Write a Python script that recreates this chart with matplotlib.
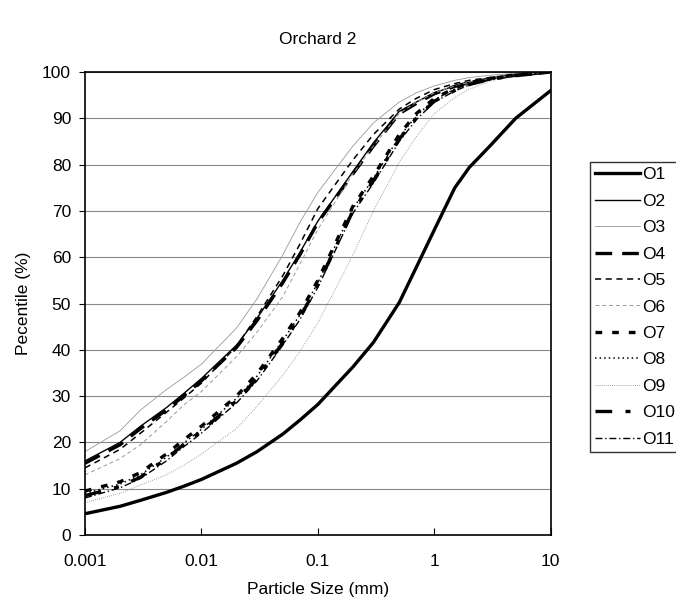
import numpy as np
import matplotlib
matplotlib.use('Agg')
import matplotlib.pyplot as plt

plt.rcParams['font.family'] = ['Liberation Sans', 'DejaVu Sans']

# particle size (mm)
size = [0.001, 0.002, 0.003, 0.005, 0.007, 0.01, 0.02, 0.03, 0.05, 0.07, 0.1,
        0.2, 0.3, 0.5, 0.7, 1, 1.5, 2, 3, 5, 10]

O1 = [4.6, 6.2, 7.5, 9.2, 10.5, 12.0, 15.5, 18.0, 21.8, 24.8, 28.2, 36.3, 41.6, 50.2, 57.8, 65.9, 75.0, 79.4, 84.0, 90.0, 96.0]
O2 = [16.0, 20.0, 23.5, 27.5, 30.5, 33.8, 41.0, 46.8, 55.0, 61.0, 67.8, 78.5, 84.7, 91.5, 93.5, 95.5, 97.0, 97.8, 98.5, 99.3, 100]
O3 = [18.0, 22.5, 27.0, 31.4, 34.0, 36.9, 44.7, 51.0, 60.5, 67.5, 74.0, 84.0, 89.0, 93.5, 95.5, 97.0, 98.2, 98.8, 99.3, 99.7, 100]
O4 = [15.5, 19.5, 23.0, 27.0, 30.0, 33.3, 40.5, 46.3, 54.5, 60.5, 67.5, 78.0, 84.0, 91.0, 93.2, 95.3, 96.9, 97.7, 98.5, 99.3, 100]
O5 = [14.5, 18.5, 22.0, 26.5, 29.5, 32.8, 40.8, 47.2, 56.0, 62.8, 70.5, 81.0, 86.5, 92.0, 94.3, 96.2, 97.5, 98.2, 98.8, 99.5, 100]
O6 = [13.0, 16.5, 19.5, 24.5, 28.0, 31.0, 38.5, 43.8, 51.5, 58.5, 66.0, 78.0, 84.0, 91.0, 93.5, 95.5, 97.0, 97.8, 98.6, 99.4, 100]
O7 = [9.5, 11.5, 13.5, 17.5, 20.5, 23.5, 30.0, 34.8, 42.5, 48.0, 55.0, 71.0, 77.5, 86.5, 91.0, 94.3, 96.5, 97.7, 98.6, 99.4, 100]
O8 = [9.0, 11.0, 13.0, 16.8, 19.8, 22.8, 29.5, 34.3, 42.0, 47.5, 54.5, 70.5, 77.0, 86.0, 90.5, 94.0, 96.3, 97.5, 98.5, 99.3, 100]
O9 = [7.0, 9.0, 10.8, 13.0, 15.0, 17.5, 23.0, 27.8, 34.5, 39.6, 45.8, 60.5, 70.0, 80.5, 86.0, 91.0, 94.5, 96.3, 98.0, 99.2, 100]
O10 = [8.5, 10.5, 12.5, 16.5, 19.5, 22.5, 29.0, 33.8, 41.5, 47.0, 54.0, 70.0, 76.5, 85.5, 90.0, 93.7, 96.0, 97.3, 98.4, 99.2, 100]
O11 = [8.0, 10.2, 12.2, 16.0, 19.0, 22.0, 28.5, 33.3, 41.0, 46.5, 53.5, 69.5, 76.0, 85.0, 89.7, 93.5, 95.9, 97.2, 98.3, 99.2, 100]

labels = ['O1', 'O2', 'O3', 'O4', 'O5', 'O6', 'O7', 'O8', 'O9', 'O10', 'O11']
series = [O1, O2, O3, O4, O5, O6, O7, O8, O9, O10, O11]

# (colour, width, dash pattern)
styles = [
    ('black', 2.4, None),
    ('black', 1.0, None),
    ('#999999', 0.6, None),
    ('black', 2.4, (5, 3)),
    ('black', 1.1, (4, 3)),
    ('#999999', 0.7, (4, 3)),
    ('black', 2.4, (2, 3)),
    ('black', 1.1, (1, 2)),
    ('#888888', 0.6, (1, 1.5)),
    ('black', 2.4, (5, 4, 1.5, 4)),
    ('black', 1.0, (5, 2, 1, 2)),
]

fig = plt.figure(figsize=(6.76, 6.04), dpi=100)
ax = fig.add_axes([0.1257, 0.1142, 0.689, 0.7666])

for lab, y, (c, lw, d) in zip(labels, series, styles):
    line, = ax.plot(size, y, color=c, lw=lw, label=lab)
    if d is not None:
        line.set_dashes(d)

ax.set_xscale('log')
ax.set_xlim(0.001, 10)
ax.set_ylim(0, 100)
ax.set_xticks([0.001, 0.01, 0.1, 1, 10])
ax.set_xticklabels(['0.001', '0.01', '0.1', '1', '10'])
ax.set_yticks(range(0, 101, 10))
ax.xaxis.set_minor_locator(matplotlib.ticker.NullLocator())
ax.tick_params(axis='x', direction='in', length=5, labelsize=12.5, pad=14)
ax.tick_params(axis='y', direction='out', length=4, labelsize=12.5, pad=6)
ax.yaxis.grid(True, color='#888888', lw=0.8)
ax.set_axisbelow(True)
for s in ax.spines.values():
    s.set_linewidth(1.2)

ax.set_xlabel('Particle Size (mm)', fontsize=12.5, labelpad=9)
ax.set_ylabel('Pecentile (%)', fontsize=12.5, labelpad=8)
ax.set_title('Orchard 2', fontsize=12.5, pad=20)

leg = ax.legend(loc='upper left', bbox_to_anchor=(590 / 676, 1 - 162 / 604),
                bbox_transform=fig.transFigure, frameon=True, fancybox=False,
                fontsize=12.5, handlelength=2.6, handletextpad=0.1,
                labelspacing=0.65, borderpad=0.3, borderaxespad=0)
leg.get_frame().set_edgecolor('black')
leg.get_frame().set_linewidth(1.0)

fig.savefig('out.png', dpi=100)
